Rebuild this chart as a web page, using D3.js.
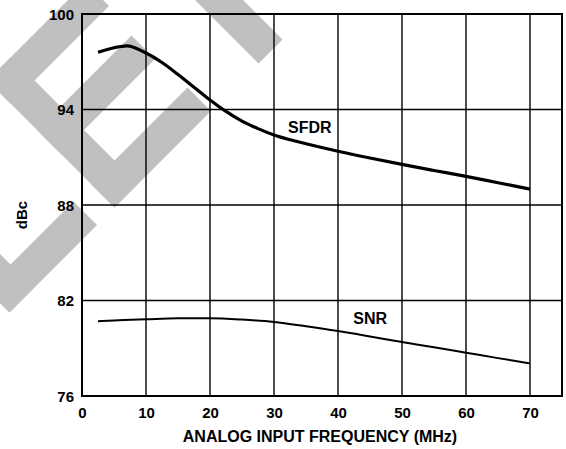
<!DOCTYPE html>
<html>
<head>
<meta charset="utf-8">
<script src="https://cdn.jsdelivr.net/npm/d3@7"></script>
<style>
  html, body { margin: 0; padding: 0; background: #fff; }
  svg { display: block; }
  text { font-family: "Liberation Sans", Arial, Helvetica, sans-serif; font-weight: bold; fill: #000; }
</style>
</head>
<body>
<script>
// ---- data ----
const sfdrFreq = [2.5, 5, 7, 10, 12.5, 15, 17.5, 20, 22.5, 25, 27.5, 30, 32.5, 35, 40, 45, 50, 55, 60, 65, 70];
const sfdrDbc  = [97.6, 97.88, 98.0, 97.55, 96.95, 96.2, 95.4, 94.6, 93.88, 93.27, 92.8, 92.4, 92.1, 91.85, 91.38, 90.95, 90.55, 90.17, 89.8, 89.4, 89.0];
const snrFreq  = [2.5, 5, 10, 15, 20, 25, 30, 35, 40, 45, 50, 55, 60, 65, 70];
const snrDbc   = [80.7, 80.75, 80.82, 80.88, 80.88, 80.8, 80.65, 80.38, 80.08, 79.74, 79.39, 79.06, 78.72, 78.38, 78.05];
const xTicks = [0, 10, 20, 30, 40, 50, 60, 70];
const yTicks = [76, 82, 88, 94, 100];
const xTitle = "ANALOG INPUT FREQUENCY (MHz)";
const yTitle = "dBc";
const seriesLabels = [
  { text: "SFDR", f: 32.2, db: 92.5 },
  { text: "SNR",  f: 42.4, db: 80.5 }
];
// watermark strokes ("OBSOLETE" rotated), in diagonal coords u = x+y, v = y-x
const watermarkStrokes = [
  { u: [68, 322], v: [254, 303] },   // L stem
  { u: [275, 322], v: [128, 303] },  // L foot
  { u: [68, 322], v: [46, 93] },     // E spine
  { u: [68, 115], v: [-103, 93] },   // E top arm
  { u: [167, 214], v: [-96, 93] },   // E middle arm
  { u: [275, 322], v: [-100, 93] },  // E bottom arm
  { u: [-200, 322], v: [-243, -195] }, // T stem
  { u: [68, 115], v: [-330, -118] }  // T bar
];

const W = 566, H = 449;
const svg = d3.select("body").append("svg").attr("width", W).attr("height", H);
svg.append("rect").attr("width", W).attr("height", H).attr("fill", "#fff");

// watermark
const wm = svg.append("g");
watermarkStrokes.forEach(s => {
  const pts = [[s.u[0], s.v[0]], [s.u[1], s.v[0]], [s.u[1], s.v[1]], [s.u[0], s.v[1]]]
    .map(([u, v]) => [(u - v) / 2, (u + v) / 2]);
  wm.append("polygon").attr("points", pts.map(p => p.join(",")).join(" ")).attr("fill", "#c0c0c0");
});

const x = d3.scaleLinear().domain([0, 75]).range([82, 562]);
const y = d3.scaleLinear().domain([76, 100]).range([396, 14]);

// grid
const g = svg.append("g");
g.selectAll("line.vx").data(xTicks.filter(d => d > 0)).join("line")
  .attr("x1", d => x(d)).attr("x2", d => x(d)).attr("y1", y(100)).attr("y2", y(76))
  .attr("stroke", "#000").attr("stroke-width", 1.4);
g.selectAll("line.hy").data(yTicks.filter(d => d > 76 && d < 100)).join("line")
  .attr("x1", x(0)).attr("x2", x(75)).attr("y1", d => y(d)).attr("y2", d => y(d))
  .attr("stroke", "#000").attr("stroke-width", 1.4);
g.append("rect").attr("x", x(0)).attr("y", y(100)).attr("width", x(75) - x(0)).attr("height", y(76) - y(100))
  .attr("fill", "none").attr("stroke", "#000").attr("stroke-width", 2);

// axes labels via d3 axes (domain/ticks hidden)
const xAxis = svg.append("g").attr("transform", `translate(0,${y(76)})`)
  .call(d3.axisBottom(x).tickValues(xTicks).tickSize(0).tickPadding(0).tickFormat(d3.format("d")));
xAxis.select(".domain").remove();
xAxis.selectAll("text").attr("y", 22).attr("dy", null).style("font-size", "15px")
  .style("font-family", '"Liberation Sans", Arial, sans-serif').style("font-weight", "bold").attr("fill", "#000");

const yAxis = svg.append("g").attr("transform", `translate(${x(0)},0)`)
  .call(d3.axisLeft(y).tickValues(yTicks).tickSize(0).tickPadding(0).tickFormat(d3.format("d")));
yAxis.select(".domain").remove();
yAxis.selectAll("text").attr("x", -8).attr("dy", "0.36em").style("font-size", "15px")
  .style("font-family", '"Liberation Sans", Arial, sans-serif').style("font-weight", "bold").attr("fill", "#000");

svg.append("text").attr("x", (x(0) + x(75)) / 2 - 2).attr("y", 442).attr("text-anchor", "middle")
  .style("font-size", "16px").text(xTitle);
svg.append("text").attr("transform", "translate(26.5,215) rotate(-90)").attr("text-anchor", "middle")
  .style("font-size", "15px").text(yTitle);

// curves
const line = d3.line().x(d => x(d[0])).y(d => y(d[1])).curve(d3.curveMonotoneX);
svg.append("path").datum(sfdrFreq.map((f, i) => [f, sfdrDbc[i]]))
  .attr("d", line).attr("fill", "none").attr("stroke", "#000").attr("stroke-width", 3.2).attr("stroke-linejoin", "round");
svg.append("path").datum(snrFreq.map((f, i) => [f, snrDbc[i]]))
  .attr("d", line).attr("fill", "none").attr("stroke", "#000").attr("stroke-width", 2);

svg.selectAll("text.series").data(seriesLabels).join("text").attr("class", "series")
  .attr("x", d => x(d.f)).attr("y", d => y(d.db))
  .style("font-size", "16px").text(d => d.text);
</script>
</body>
</html>
